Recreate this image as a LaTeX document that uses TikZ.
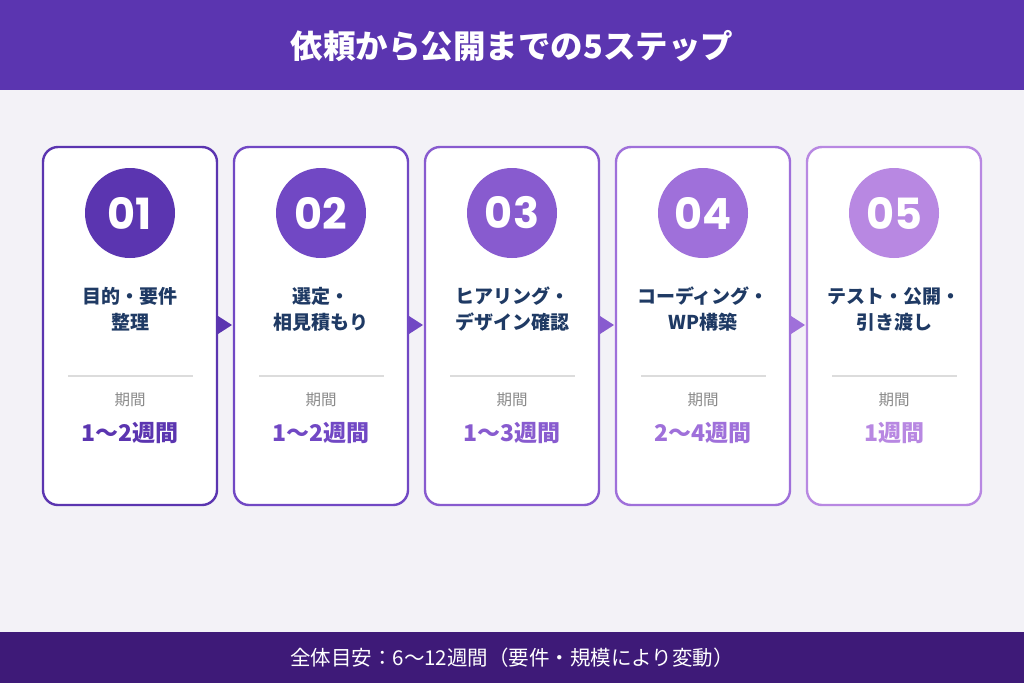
\documentclass[tikz,border=0pt]{standalone}
\usepackage{fontspec}
\newfontfamily\cjk{Noto Sans CJK JP}
\newfontfamily\numfont{Poppins}
\usetikzlibrary{calc}
\definecolor{bg}{HTML}{F3F2F7}
\definecolor{head}{HTML}{5B35B0}
\definecolor{foot}{HTML}{3E1A78}
\definecolor{navy}{HTML}{1F3A64}
\definecolor{gtext}{HTML}{8A8A8A}
\definecolor{gline}{HTML}{DCDCDC}
\definecolor{cA}{HTML}{5B35B0}
\definecolor{cB}{HTML}{7148C4}
\definecolor{cC}{HTML}{885BCF}
\definecolor{cD}{HTML}{9F70DA}
\definecolor{cE}{HTML}{B888E2}
\tikzset{
  card/.style={draw=#1, line width=2.4pt, fill=white, rounded corners=15pt},
  numcircle/.style={circle, fill=#1, minimum size=90pt, inner sep=0pt, text=white, font=\numfont\bfseries\fontsize{43}{43}\selectfont},
  steptitle/.style={text=navy, align=center, font=\cjk\bfseries\fontsize{19}{26}\selectfont},
  periodlbl/.style={text=gtext, font=\cjk\fontsize{15.5}{15.5}\selectfont},
  duration/.style={text=#1, font=\cjk\bfseries\fontsize{23}{23}\selectfont},
  divider/.style={draw=gline, line width=1.2pt},
  arrowtri/.style={fill=#1},
}
\begin{document}
\begin{tikzpicture}[x=1pt,y=-1pt]
\useasboundingbox (0,0) rectangle (1024,683);
\fill[bg] (0,0) rectangle (1024,683);
\fill[head] (0,0) rectangle (1024,90);
\fill[foot] (0,632) rectangle (1024,683);
\node[text=white, font=\cjk\bfseries\fontsize{32.5}{32.5}\selectfont] (title) at (512,46) {依頼から公開までの5ステップ};
\node[text=white, font=\cjk\fontsize{20.5}{20.5}\selectfont] (footer) at (512,658) {全体目安：6〜12週間（要件・規模により変動）};
\foreach \i/\x/\c/\num/\la/\lb/\dur in {
  1/43/cA/01/目的・要件/整理/1〜2週間,
  2/234/cB/02/選定・/相見積もり/1〜2週間,
  3/425/cC/03/ヒアリング・/デザイン確認/1〜3週間,
  4/616/cD/04/コーディング・/WP構築/2〜4週間,
  5/807/cE/05/テスト・公開・/引き渡し/1週間}{
  \draw[card=\c] (\x,147) rectangle ++(174,358);
  \node[numcircle=\c] (n\i) at (\x+87,213) {\num};
  \node[steptitle] (t\i) at (\x+87,309) {\la\\\lb};
  \coordinate (dl\i) at (\x+25,376);
  \coordinate (dr\i) at (\x+150,376);
  \draw[divider] (dl\i) -- (dr\i);
  \node[periodlbl] (p\i) at (\x+87,400) {期間};
  \node[duration=\c] (d\i) at (\x+87,433) {\dur};
}
\foreach \i/\x/\c in {1/217/cA,2/408/cB,3/599/cC,4/790/cD}{
  \fill[arrowtri=\c] (\x+1,316) -- (\x+15,325) -- (\x+1,334) -- cycle;
}
\end{tikzpicture}
\end{document}
